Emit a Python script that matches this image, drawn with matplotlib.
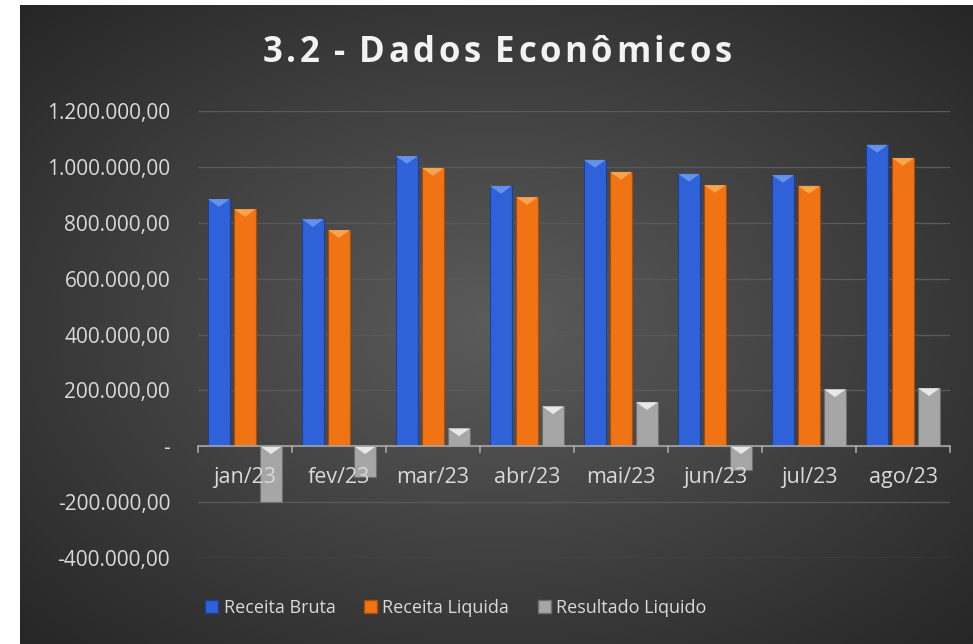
import numpy as np
import matplotlib.pyplot as plt
from matplotlib.patches import Patch
from matplotlib.ticker import FuncFormatter

meses = ['jan/23', 'fev/23', 'mar/23', 'abr/23', 'mai/23', 'jun/23', 'jul/23', 'ago/23']
receita_bruta = [885000, 813000, 1039000, 932000, 1025000, 975000, 971000, 1079000]
receita_liquida = [849000, 774000, 996000, 892000, 982000, 935000, 932000, 1032000]
resultado_liquido = [-200000, -111000, 64000, 143000, 158000, -86000, 204000, 208000]

plt.rcParams['font.family'] = ['Open Sans', 'DejaVu Sans']

W, H = 973, 644
fig = plt.figure(figsize=(W / 100, H / 100), dpi=100, facecolor='white')

# background with radial gradient
bg = fig.add_axes([20 / W, 0, 953 / W, 639 / H])
yy, xx = np.mgrid[-1:1:300j, -1:1:450j]
r = np.sqrt(xx ** 2 + yy ** 2) / np.sqrt(2)
grad = 0.36 - 0.21 * r
bg.imshow(np.dstack([grad, grad, grad]), aspect='auto', extent=[0, 1, 0, 1])
bg.set_axis_off()

ax = fig.add_axes([198 / W, (H - 558) / H, (950 - 198) / W, (558 - 111) / H])
ax.patch.set_alpha(0)

x = np.arange(len(meses))
w = 0.234
off = 0.277
cores = ['#2f62d8', '#f07314', '#a6a6a6']
bordas = ['#1d3f96', '#a84d0a', '#6e6e6e']
claros = ['#6f9bf0', '#ffae5a', '#f4f4f4']
series = [receita_bruta, receita_liquida, resultado_liquido]
nomes = ['Receita Bruta', 'Receita Liquida', 'Resultado Liquido']
tri = 28000  # bevel height in data units
for i, vals in enumerate(series):
    pos = x + (i - 1) * off
    ax.bar(pos, vals, width=w, color=cores[i], edgecolor=bordas[i],
           linewidth=0.8, zorder=3)
    # bevel triangle at the top face of each bar
    for p, v in zip(pos, vals):
        top = max(v, 0)
        ax.fill([p - w / 2, p + w / 2, p], [top, top, top - tri],
                color=claros[i], alpha=0.85, zorder=4, linewidth=0)

ax.set_xlim(-0.5, len(meses) - 0.5)
ax.set_ylim(-400000, 1200000)
ax.set_yticks(np.arange(-400000, 1200001, 200000))


def fmt(v, pos):
    if v == 0:
        return '-'
    s = '{:,.2f}'.format(v)
    return s.replace(',', 'X').replace('.', ',').replace('X', '.')


ax.yaxis.set_major_formatter(FuncFormatter(fmt))
ax.grid(axis='y', color='#595959', linewidth=1, zorder=0)
ax.tick_params(axis='y', length=0, pad=20, labelsize=15, labelcolor='#d9d9d9')
for s in ax.spines.values():
    s.set_visible(False)

# zero line with category ticks
ax.axhline(0, color='#a6a6a6', linewidth=1.2, zorder=5)
for b in np.arange(-0.5, len(meses), 1.0):
    ax.plot([b, b], [0, -20000], color='#a6a6a6', linewidth=1.2, zorder=5, clip_on=False)
ax.set_xticks([])
for i, m in enumerate(meses):
    ax.text(i, -112000, m, ha='center', va='center', fontsize=15.5, color='#d9d9d9', zorder=6)

# letter-spaced title
titulo = '3.2 - Dados Econômicos'
fig.canvas.draw()
rend = fig.canvas.get_renderer()
esp = 3.6
larg = []
for c in titulo:
    t = fig.text(0, 0, c if c != ' ' else 'a', fontsize=25, fontweight='bold')
    larg.append(t.get_window_extent(rend).width if c != ' ' else 7.0)
    t.remove()
total = sum(larg) + esp * (len(titulo) - 1)
xc = 497 - total / 2
for c, lw in zip(titulo, larg):
    fig.text(xc / W, 1 - 53 / H, c, ha='left', va='center', fontsize=25,
             fontweight='bold', color='#f2f2f2')
    xc += lw + esp

handles = [Patch(facecolor=cores[i], edgecolor=bordas[i]) for i in range(3)]
leg = fig.legend(handles, nomes, loc='center', bbox_to_anchor=(456 / W, 1 - 608 / H),
                 ncol=3, frameon=False, fontsize=13, labelcolor='#d9d9d9',
                 handlelength=0.7, handleheight=0.7, handletextpad=0.3, columnspacing=1.6)

fig.savefig('out.png', dpi=100, facecolor='white')
